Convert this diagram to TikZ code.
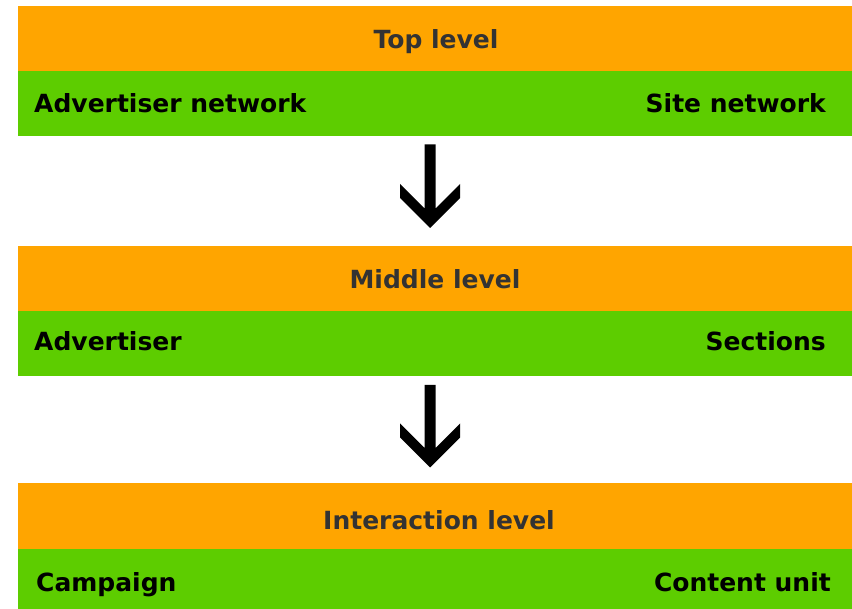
\documentclass[tikz,border=0pt]{standalone}
\usepackage{fontspec}
\setmainfont{DejaVu Sans}
\usetikzlibrary{calc}
\definecolor{barorange}{HTML}{FFA500}
\definecolor{bargreen}{HTML}{5DCD00}
\definecolor{titlegray}{HTML}{333333}
\tikzset{
  bar/.style={minimum width=834pt, minimum height=65pt, inner sep=0pt, outer sep=0pt},
  obar/.style={bar, fill=barorange},
  gbar/.style={bar, fill=bargreen},
  ttext/.style={inner sep=0pt, anchor=base, text=titlegray, font=\bfseries\fontsize{25}{28}\selectfont},
  gtext/.style={inner sep=0pt, text=black, font=\bfseries\fontsize{25}{28}\selectfont},
  arrowfill/.style={fill=black}
}
\newcommand{\downarrowshape}[2]{%
  \fill[arrowfill] ($(#1)+(-5.5,0)$) -- ($(#2)+(-5.5,-19.5)$) -- ($(#2)+(-30,-44)$)
    -- ($(#2)+(-30,-30)$) -- (#2) -- ($(#2)+(30,-30)$) -- ($(#2)+(30,-44)$)
    -- ($(#2)+(5.5,-19.5)$) -- ($(#1)+(5.5,0)$) -- cycle;}
\begin{document}
\begin{tikzpicture}[x=1pt,y=-1pt]
\useasboundingbox (0,0) rectangle (852,609);
% top
\node[obar] (to) at (435,39) {};
\node[gbar, anchor=north] (tg) at (to.south) {};
\node[ttext] (tt) at (436,48.5) {Top level};
\node[gtext, anchor=base west] (tl) at (34,113) {Advertiser network};
\node[gtext, anchor=base east] (tr) at (826,113) {Site network};
% middle
\node[obar] (mo) at (435,278.5) {};
\node[gbar, anchor=north] (mg) at (mo.south) {};
\node[ttext] (mt) at (435,288.5) {Middle level};
\node[gtext, anchor=base west] (ml) at (34,351) {Advertiser};
\node[gtext, anchor=base east] (mr) at (826,351) {Sections};
% bottom
\node[obar] (bo) at (435,516) {};
\node[gbar, anchor=north] (bg) at (bo.south) {};
\node[ttext] (bt) at (439,529.5) {Interaction level};
\node[gtext, anchor=base west] (bl) at (36,591) {Campaign};
\node[gtext, anchor=base east] (br) at (831,591) {Content unit};
% arrows
\coordinate (a1s) at ($(tg.south)+(-5,8)$);
\coordinate (a1t) at ($(mo.north)+(-5,-18)$);
\downarrowshape{a1s}{a1t}
\coordinate (a2s) at ($(mg.south)+(-5,9)$);
\coordinate (a2t) at ($(bo.north)+(-5,-16)$);
\downarrowshape{a2s}{a2t}
\end{tikzpicture}
\end{document}
